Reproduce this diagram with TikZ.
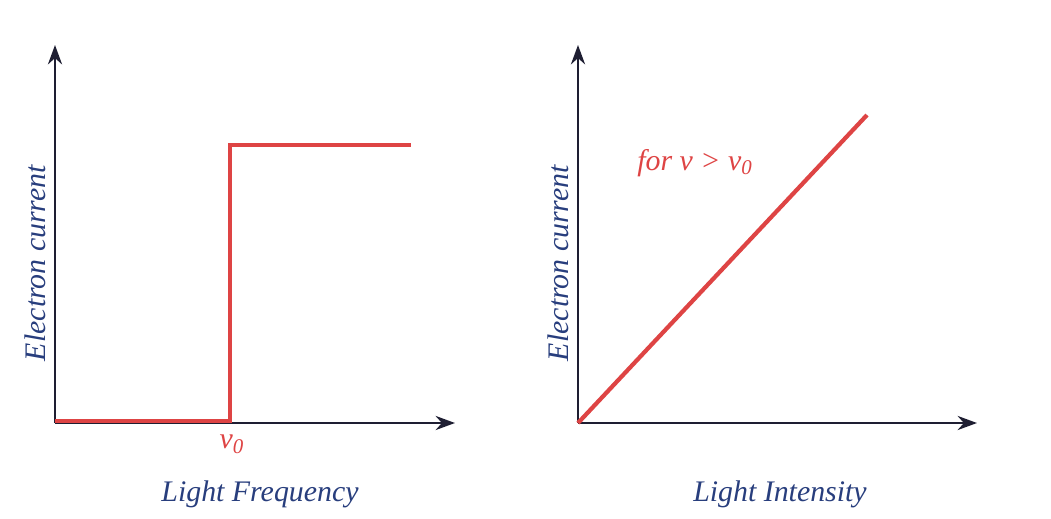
\documentclass[tikz,border=0pt]{standalone}
\usepackage{fontspec}
\setmainfont{Liberation Serif}
\usetikzlibrary{arrows.meta}
\definecolor{AxisClr}{RGB}{30,30,50}
\definecolor{CurveClr}{RGB}{222,68,68}
\definecolor{LabelClr}{RGB}{40,62,125}
\tikzset{
  axis/.style={line width=1.6pt,color=AxisClr,-{Stealth[length=11pt,width=8pt]}},
  curve/.style={line width=2.4pt,color=CurveClr},
  lbl/.style={color=LabelClr,font=\fontsize{17}{20}\selectfont\itshape},
  redlbl/.style={color=CurveClr,font=\fontsize{17}{20}\selectfont\itshape}
}
\begin{document}
\begin{tikzpicture}[x=0.02cm,y=0.02cm]
\useasboundingbox (0,0) rectangle (1051,518);

% left graph
\coordinate (O1) at (55,95);
\coordinate (Y1) at (55,473);
\coordinate (X1) at (455,95);
\coordinate (s0) at (55,97);
\coordinate (s1) at (230,97);
\coordinate (s2) at (230,373);
\coordinate (s3) at (411,373);
\draw[axis] (O1) -- (Y1);
\draw[axis] (O1) -- (X1);
\draw[curve] (s0) -- (s1) -- (s2) -- (s3);
\node[redlbl] (v0) at (232,74) {v\textsubscript{0}};
\node[lbl] (xlbl1) at (260,24) {Light Frequency};
\node[lbl,rotate=90] (ylbl1) at (35,255) {Electron current};

% right graph
\coordinate (O2) at (578,95);
\coordinate (Y2) at (578,473);
\coordinate (X2) at (977,95);
\coordinate (e2) at (867,403);
\draw[axis] (O2) -- (Y2);
\draw[axis] (O2) -- (X2);
\draw[curve] (O2) -- (e2);
\node[redlbl] (cond) at (695,355) {for v > v\textsubscript{0}};
\node[lbl] (xlbl2) at (780,24) {Light Intensity};
\node[lbl,rotate=90] (ylbl2) at (558,255) {Electron current};
\end{tikzpicture}
\end{document}
